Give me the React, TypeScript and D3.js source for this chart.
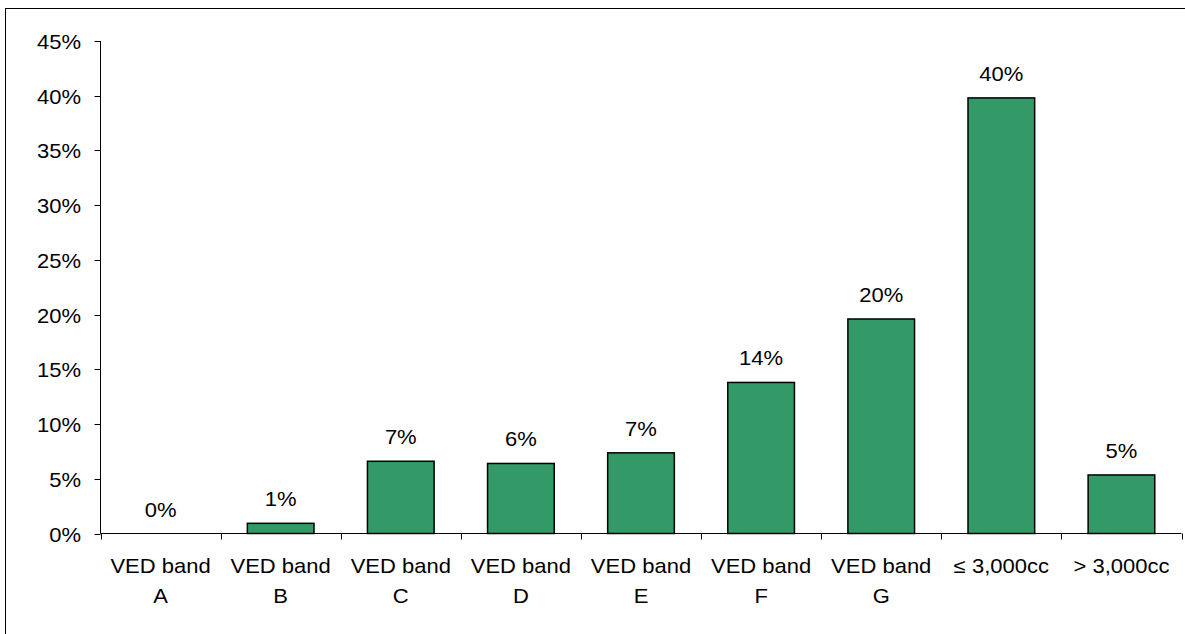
import React, { useEffect, useRef } from "react";
import * as d3 from "d3";

const categoryLines: string[][] = [
  ["VED band", "A"],
  ["VED band", "B"],
  ["VED band", "C"],
  ["VED band", "D"],
  ["VED band", "E"],
  ["VED band", "F"],
  ["VED band", "G"],
  ["≤ 3,000cc"],
  ["> 3,000cc"],
];
const categories = categoryLines.map((l) => l.join(" "));
const shares = [0, 0.93, 6.6, 6.4, 7.37, 13.8, 19.6, 39.8, 5.35];
const valueLabels = ["0%", "1%", "7%", "6%", "7%", "14%", "20%", "40%", "5%"];
const yTicks = [0, 5, 10, 15, 20, 25, 30, 35, 40, 45];

const W = 1185;
const H = 634;
const FONT = "'Liberation Sans', Arial, sans-serif";
const FS = 20;
const SX = 1.1; // horizontal stretch of the glyphs

export default function App() {
  const ref = useRef<SVGSVGElement>(null);

  useEffect(() => {
    const svg = d3.select(ref.current);
    svg.selectAll("*").remove();

    const left = 100.5;
    const right = 1181.5;
    const top = 41;
    const bottom = 533.5;

    const x = d3.scaleBand<string>().domain(categories).range([left, right]).padding(0);
    const y = d3.scaleLinear().domain([0, 45]).range([bottom, top]);
    const barW = x.bandwidth() * 0.555;

    // outer frame
    svg
      .append("rect")
      .attr("x", 5.5)
      .attr("y", 8.5)
      .attr("width", W)
      .attr("height", H)
      .attr("fill", "white")
      .attr("stroke", "#000")
      .attr("stroke-width", 1);

    const stretchedText = (
      g: d3.Selection<any, any, any, any>,
      tx: number,
      ty: number,
      text: string,
      anchor: string
    ) => {
      g.append("text")
        .attr("transform", `translate(${tx},${ty}) scale(${SX},1)`)
        .attr("text-anchor", anchor)
        .attr("font-family", FONT)
        .attr("font-size", FS)
        .attr("fill", "#000")
        .text(text);
    };

    // y axis
    const yg = svg.append("g");
    yg.append("line")
      .attr("x1", left)
      .attr("x2", left)
      .attr("y1", y(45))
      .attr("y2", bottom)
      .attr("stroke", "#000")
      .attr("stroke-width", 1);
    yTicks.forEach((t) => {
      const yy = Math.round(y(t)) + 0.5;
      yg.append("line")
        .attr("x1", left - 6)
        .attr("x2", left)
        .attr("y1", yy)
        .attr("y2", yy)
        .attr("stroke", "#000");
      stretchedText(yg, 81, yy + 7, `${t}%`, "end");
    });

    // bars
    const bg = svg.append("g");
    categories.forEach((c, i) => {
      const v = shares[i];
      const cx = (x(c) as number) + x.bandwidth() / 2;
      if (v > 0) {
        bg.append("rect")
          .attr("x", cx - barW / 2)
          .attr("y", y(v))
          .attr("width", barW)
          .attr("height", bottom - y(v))
          .attr("fill", "#339966")
          .attr("stroke", "#000")
          .attr("stroke-width", 1.5);
      }
      stretchedText(bg, cx, y(v) - 17, valueLabels[i], "middle");
    });

    // x axis
    const xg = svg.append("g");
    xg.append("line")
      .attr("x1", left)
      .attr("x2", right)
      .attr("y1", bottom)
      .attr("y2", bottom)
      .attr("stroke", "#000");
    [...categories.map((c) => x(c) as number), right].forEach((tx) => {
      const xx = Math.round(tx) + 0.5;
      xg.append("line")
        .attr("x1", xx)
        .attr("x2", xx)
        .attr("y1", bottom)
        .attr("y2", bottom + 6)
        .attr("stroke", "#000");
    });
    categories.forEach((c, i) => {
      const cx = (x(c) as number) + x.bandwidth() / 2;
      categoryLines[i].forEach((line, k) => {
        stretchedText(xg, cx, bottom + 39 + k * 30.6, line, "middle");
      });
    });
  }, []);

  return (
    <svg
      ref={ref}
      width={W}
      height={H}
      style={{ position: "absolute", left: 0, top: 0, display: "block" }}
    />
  );
}
